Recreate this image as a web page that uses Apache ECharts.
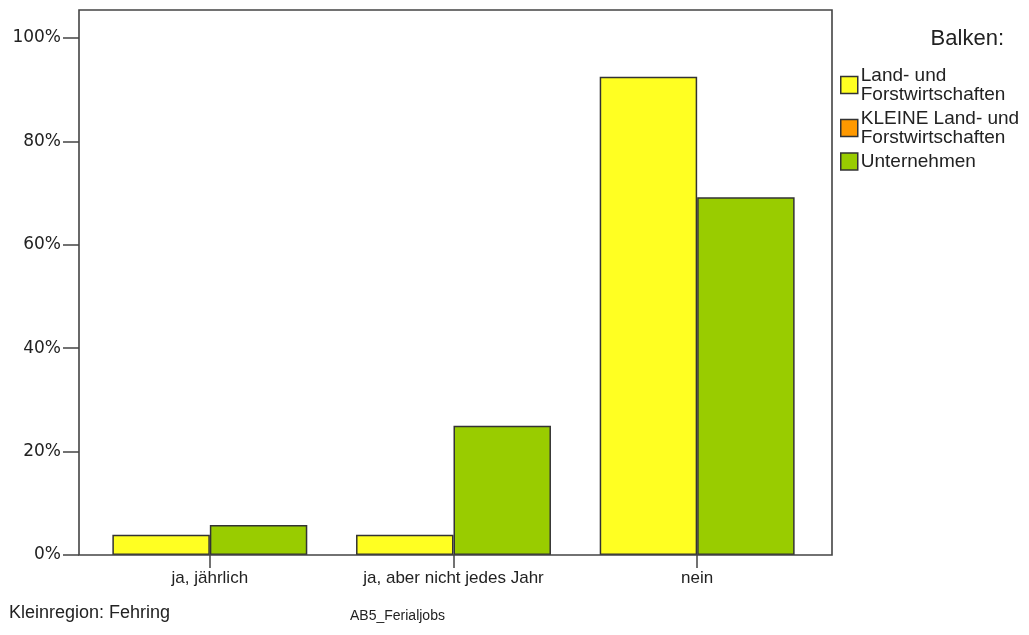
<!DOCTYPE html>
<html>
<head>
<meta charset="utf-8">
<script src="https://cdn.jsdelivr.net/npm/echarts@6/dist/echarts.min.js"></script>
<style>html,body{margin:0;padding:0;background:#fff;}#c{width:1029px;height:635px;}</style>
</head>
<body>
<div id="c"></div>
<script>
const categories = ['ja, jährlich', 'ja, aber nicht jedes Jahr', 'nein'];
const seriesNames = ['Land- und\nForstwirtschaften', 'KLEINE Land- und\nForstwirtschaften', 'Unternehmen'];
const landForst = [3.9, 3.9, 92.5];
const kleineLandForst = [null, null, null];
const unternehmen = [5.8, 25.0, 69.2];
const yTicks = [0, 20, 40, 60, 80, 100];
const colors = ['#FFFF22', '#FF9900', '#99CC00'];

const F = '"Liberation Sans", Arial, sans-serif';
const chart = echarts.init(document.getElementById('c'), null, {renderer: 'canvas'});
chart.setOption({
  animation: false,
  backgroundColor: '#fff',
  title: [
    {text: 'Balken:', right: 20, top: 23, textStyle: {fontFamily: F, fontSize: 22, fontWeight: 'normal', color: '#222'}},
    {text: 'Kleinregion: Fehring', left: 4, top: 599, textStyle: {fontFamily: F, fontSize: 18, fontWeight: 'normal', color: '#222'}},
    {text: 'AB5_Ferialjobs', left: 345, top: 604, textStyle: {fontFamily: F, fontSize: 14, fontWeight: 'normal', color: '#222'}}
  ],
  legend: {
    orient: 'vertical', left: 835, top: 61, itemWidth: 17, itemHeight: 17, itemGap: 5,
    selectedMode: false, icon: 'rect',
    itemStyle: {borderColor: '#333', borderWidth: 1.5},
    textStyle: {fontFamily: F, fontSize: 19, lineHeight: 19, color: '#222', padding: [0,0,0,-2]},
    data: seriesNames
  },
  graphic: [{
    type: 'rect', z: 100, silent: true,
    shape: {x: 79, y: 10, width: 753, height: 545},
    style: {fill: 'none', stroke: '#444', lineWidth: 1.6}
  }],
  grid: {left: 88, right: 210, top: 38, bottom: 80, containLabel: false},
  xAxis: [{
    type: 'category', data: categories,
    axisLine: {show: false},
    axisTick: {show: true, alignWithLabel: true, length: 13, lineStyle: {color: '#444', width: 1.5}},
    axisLabel: {fontFamily: F, fontSize: 17, color: '#222', margin: 15}
  }, {
    type: 'category', data: categories, show: false
  }],
  yAxis: {
    type: 'value', min: 0, max: 100, interval: 20, offset: 9,
    axisLine: {show: false},
    axisTick: {show: true, length: 16, lineStyle: {color: '#444', width: 1.5}},
    splitLine: {show: false},
    axisLabel: {fontFamily: '"DejaVu Sans", sans-serif', fontSize: 17, color: '#222', margin: 18,
      formatter: v => yTicks.includes(v) ? v + '%' : ''}
  },
  series: [
    {name: seriesNames[0], type: 'bar', data: landForst, barGap: 0, barCategoryGap: '20%',
     itemStyle: {color: colors[0], borderColor: '#333', borderWidth: 1.5}},
    {name: seriesNames[1], type: 'bar', xAxisIndex: 1, data: kleineLandForst,
     itemStyle: {color: colors[1], borderColor: '#333', borderWidth: 1.5}},
    {name: seriesNames[2], type: 'bar', data: unternehmen, barGap: 0, barCategoryGap: '20%',
     itemStyle: {color: colors[2], borderColor: '#333', borderWidth: 1.5}}
  ]
});
</script>
</body>
</html>
